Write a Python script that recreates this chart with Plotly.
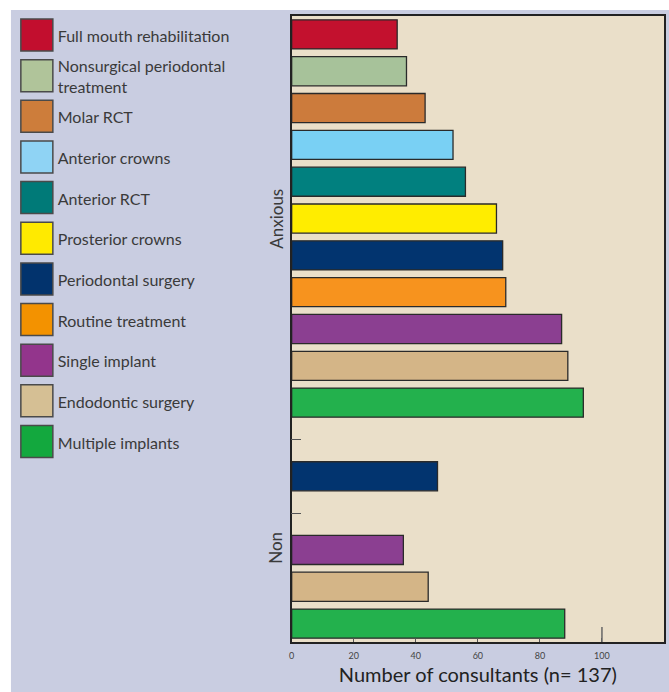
import plotly.graph_objects as go

# ---------------- data ----------------
treatments = [
    "Full mouth rehabilitation",
    "Nonsurgical periodontal<br>treatment",
    "Molar RCT",
    "Anterior crowns",
    "Anterior RCT",
    "Prosterior crowns",
    "Periodontal surgery",
    "Routine treatment",
    "Single implant",
    "Endodontic surgery",
    "Multiple implants",
]
bar_colors = ["#C3112E", "#A7C29A", "#CC7B3C", "#79D0F4", "#01807F", "#FFED00",
              "#02346F", "#F7931E", "#8B3F91", "#D4B587", "#23B14D"]
legend_colors = ["#C20E2E", "#B0C49A", "#CD7D3B", "#8FD3F4", "#007A78", "#FFEA00",
                 "#02336D", "#F39200", "#93358C", "#D5BF94", "#13A83E"]

anxious_values = [34, 37, 43, 52, 56, 66, 68, 69, 87, 89, 94]

non_rows = ["gap 1", "Periodontal surgery", "gap 2", "Single implant",
            "Endodontic surgery", "Multiple implants"]
non_values = [None, 47, None, 36, 44, 88]

x_ticks = [0, 20, 40, 60, 80, 100, 120]
x_title = "Number of consultants (n= 137)"
group_labels = ["Anxious", "Non"]

# ---------------- build ----------------
plain = [t.replace("<br>", " ") for t in treatments]
color_of = dict(zip(plain, bar_colors))

anx_y = ["Anxious | " + p for p in plain]
non_y = ["Non | " + r for r in non_rows]
order = anx_y + non_y
gap_y = [y for y, v in zip(non_y, non_values) if v is None]

TXT = "#3a3a3a"
FONT = "Lato, 'Open Sans', sans-serif"

fig = go.Figure()

fig.add_trace(go.Bar(
    x=anxious_values, y=anx_y, orientation="h",
    marker=dict(color=[color_of[p] for p in plain],
                line=dict(color="#2a2a2a", width=1.3)),
    width=0.79, showlegend=False, hoverinfo="x+y"))

non_vals_clean = [v for v in non_values if v is not None]
non_y_clean = [y for y, v in zip(non_y, non_values) if v is not None]
non_cols = [color_of[y.split(" | ")[1]] for y in non_y_clean]
fig.add_trace(go.Bar(
    x=non_vals_clean, y=non_y_clean, orientation="h",
    marker=dict(color=non_cols, line=dict(color="#2a2a2a", width=1.3)),
    width=0.79, showlegend=False, hoverinfo="x+y"))

# legend panel drawn as a small subplot
fig.add_trace(go.Scatter(
    x=[34] * len(treatments), y=plain, mode="markers",
    marker=dict(symbol="square", size=32, color=legend_colors,
                line=dict(color="#4a4a4a", width=1.5)),
    xaxis="x2", yaxis="y2", showlegend=False, hoverinfo="skip"))
fig.add_trace(go.Scatter(
    x=[55] * len(treatments), y=plain, mode="text", text=treatments,
    textposition="middle right",
    textfont=dict(family=FONT, size=16, color=TXT),
    xaxis="x2", yaxis="y3", showlegend=False, hoverinfo="skip"))

W, H = 669, 692
L, R, T, B = 0, 5, 16, 50
pw, ph = W - L - R, H - T - B
x0_px = 290

shapes = [
    dict(type="rect", xref="paper", yref="paper",
         x0=8 / pw, x1=(W + 5) / pw, y0=-B / ph - 0.01, y1=(ph + T - 10) / ph,
         fillcolor="#C9CDE1", line=dict(width=0), layer="below"),
    dict(type="rect", xref="x domain", yref="y domain", x0=0, x1=1, y0=0, y1=1,
         fillcolor="#EADFC9", line=dict(width=0), layer="below"),
    dict(type="line", xref="x", yref="y domain", x0=100, x1=100, y0=0, y1=15 / ph,
         line=dict(color="#666", width=1.5)),
]

annotations = [
    dict(text=group_labels[0], xref="paper", yref="y domain",
         x=274 / pw, y=(ph + T - 219) / ph, textangle=-90, showarrow=False,
         xanchor="center", yanchor="middle",
         font=dict(family=FONT, size=17, color=TXT)),
    dict(text=group_labels[1], xref="paper", yref="y domain",
         x=273 / pw, y=(ph + T - 548) / ph, textangle=-90, showarrow=False,
         xanchor="center", yanchor="middle",
         font=dict(family=FONT, size=17, color=TXT)),
]

n = len(order)
leg_step = 40.65
r0 = -(35 - T) / leg_step
r1 = r0 + ph / leg_step
shift = 3 / leg_step

fig.update_layout(
    width=W, height=H,
    margin=dict(l=L, r=R, t=T, b=B),
    paper_bgcolor="white", plot_bgcolor="rgba(0,0,0,0)",
    shapes=shapes, annotations=annotations,
    bargap=0.2,
    xaxis=dict(domain=[x0_px / pw, 1], range=[0, 120], tickvals=x_ticks,
               ticks="inside", ticklen=4, tickcolor="#555", tickwidth=1,
               ticklabelstandoff=4,
               showgrid=False, zeroline=False,
               showline=True, linecolor="#222", linewidth=1.5, mirror=True,
               tickfont=dict(family=FONT, size=9, color="#444"),
               title=dict(text=x_title, standoff=8,
                          font=dict(family=FONT, size=20, color="#222"))),
    yaxis=dict(type="category", categoryorder="array", categoryarray=order,
               range=[n - 0.5, -0.5], tickvals=gap_y, ticks="inside", ticklen=10,
               tickcolor="#555", showticklabels=False, showgrid=False,
               zeroline=False, showline=True, linecolor="#222", linewidth=1.5,
               mirror=True),
    xaxis2=dict(domain=[0, 259 / pw], range=[0, 259], visible=False, fixedrange=True),
    yaxis2=dict(domain=[0, 1], type="category", categoryorder="array",
                categoryarray=plain, range=[r1, r0], visible=False,
                anchor="x2", fixedrange=True),
    yaxis3=dict(domain=[0, 1], type="category", categoryorder="array",
                categoryarray=plain, range=[r1 - shift, r0 - shift], visible=False,
                anchor="x2", overlaying="y2", fixedrange=True),
)

fig.write_html("out.html")
